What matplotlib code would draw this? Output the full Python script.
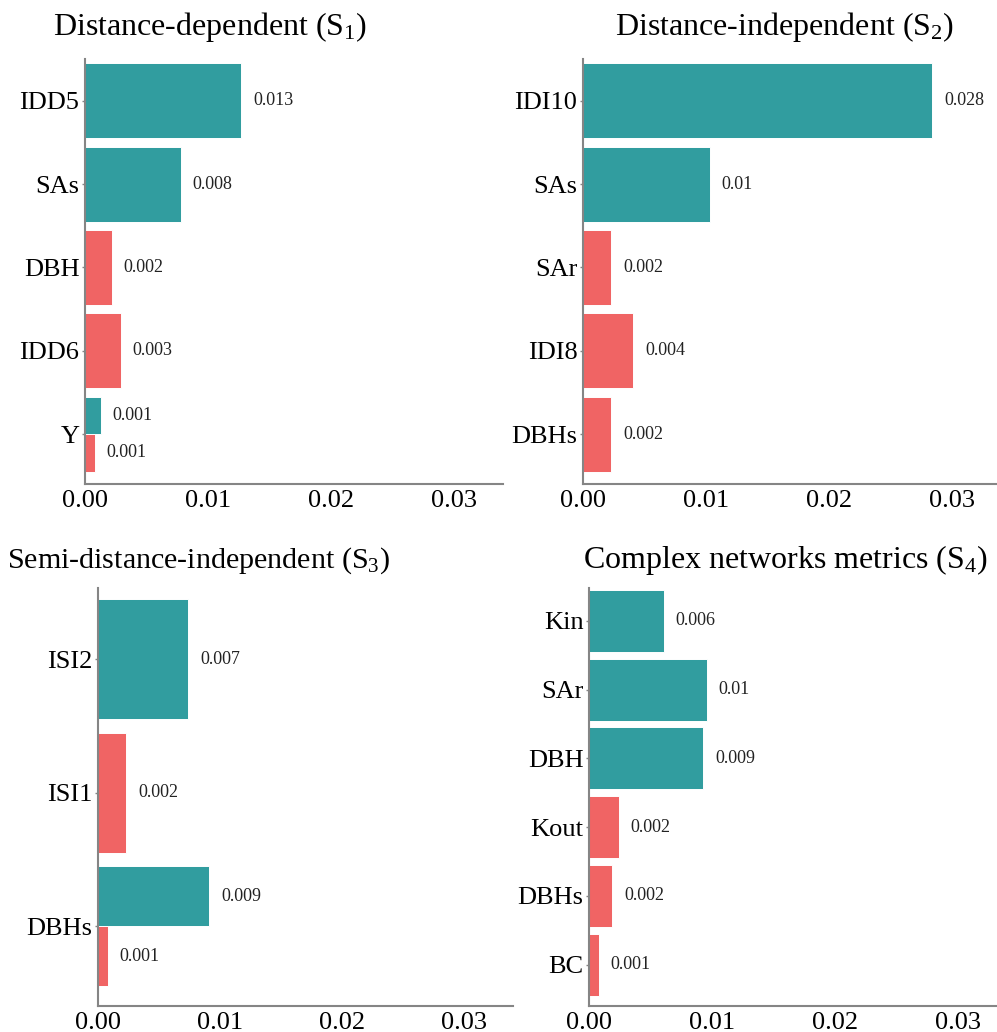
import matplotlib
matplotlib.use("Agg")
import matplotlib.pyplot as plt

plt.rcParams['font.family'] = ['Liberation Serif', 'DejaVu Serif']
plt.rcParams['mathtext.fontset'] = 'custom'
plt.rcParams['mathtext.rm'] = 'Liberation Serif'
plt.rcParams['mathtext.it'] = 'Liberation Serif:italic'
plt.rcParams['mathtext.bf'] = 'Liberation Serif:bold'

TEAL = '#319d9f'
RED = '#f06464'
AXIS_GREY = '#858585'

# Variable importance per indicator group (top to bottom); None = no bar of that sign
s1_labels = ['IDD5', 'SAs', 'DBH', 'IDD6', 'Y']
s1_pos = [0.0127, 0.0078, None, None, 0.0013]
s1_neg = [None, None, 0.0022, 0.0029, 0.0008]

s2_labels = ['IDI10', 'SAs', 'SAr', 'IDI8', 'DBHs']
s2_pos = [0.0284, 0.0103, None, None, None]
s2_neg = [None, None, 0.0023, 0.0041, 0.0023]

s3_labels = ['ISI2', 'ISI1', 'DBHs']
s3_pos = [0.0074, None, 0.0091]
s3_neg = [None, 0.0023, 0.0008]

s4_labels = ['Kin', 'SAr', 'DBH', 'Kout', 'DBHs', 'BC']
s4_pos = [0.0061, 0.0096, 0.0093, None, None, None]
s4_neg = [None, None, None, 0.0024, 0.0019, 0.0008]

titles = [
    r'Distance-dependent ($\mathrm{S}_1$)',
    r'Distance-independent ($\mathrm{S}_2$)',
    r'Semi-distance-independent ($\mathrm{S}_3$)',
    r'Complex networks metrics ($\mathrm{S}_4$)',
]
x_ticks = [0.00, 0.01, 0.02, 0.03]
x_ticklabels = ['0.00', '0.01', '0.02', '0.03']
x_max = 0.034

W, H = 997, 1032
fig = plt.figure(figsize=(W / 100, H / 100), dpi=100)

# panel rectangles in pixels: left, top, right, bottom
rects = [
    (85, 51, 503, 484),
    (583, 51, 1001, 484),
    (98, 579.5, 513, 1006),
    (589, 579.5, 1007, 1006),
]
title_pos = [(210, 35), (784, 35), (198, 568), (785, 568)]
title_size = [23, 23, 21.6, 23]
panels = [
    (s1_labels, s1_pos, s1_neg),
    (s2_labels, s2_pos, s2_neg),
    (s3_labels, s3_pos, s3_neg),
    (s4_labels, s4_pos, s4_neg),
]


def fmt(v):
    return f"{round(v, 3):g}"


def draw(ax, labels, pos, neg, px_height):
    n = len(labels)
    width = 0.9
    for i in range(n):
        p, q = pos[i], neg[i]
        if p is not None and q is not None:
            items = [(p, i - width / 4, TEAL), (q, i + width / 4, RED)]
            h = width / 2
        else:
            v = p if p is not None else q
            items = [(v, i, TEAL if p is not None else RED)]
            h = width
        for v, y, c in items:
            ax.barh(y, v, height=h, color=c, edgecolor='white', linewidth=0.7)
            ax.annotate(fmt(v), xy=(v, y), xytext=(8.5, 0),
                        textcoords='offset points', va='center', ha='left',
                        fontsize=13, color='#222222')
    ax.set_ylim(n - 0.4, -0.6)
    ax.set_xlim(0, x_max)
    ax.set_yticks(range(n))
    ax.set_yticklabels(labels, fontsize=19)
    ax.set_xticks(x_ticks)
    ax.set_xticklabels(x_ticklabels, fontsize=19)
    for s in ('top', 'right'):
        ax.spines[s].set_visible(False)
    for s in ('left', 'bottom'):
        ax.spines[s].set_color(AXIS_GREY)
        ax.spines[s].set_linewidth(1.5)
    ppu = px_height / (n + 0.2)
    ax.spines['left'].set_bounds(n - 0.4, -0.6 + 8 / ppu)
    ax.tick_params(axis='y', length=2.5, width=1, color=AXIS_GREY, pad=1.5)
    ax.tick_params(axis='x', length=0, pad=4)
    ax.set_facecolor('white')


for (l, t, r, b), (labels, pos, neg), title, (tx, ty), ts in zip(
        rects, panels, titles, title_pos, title_size):
    ax = fig.add_axes([l / W, 1 - b / H, (r - l) / W, (b - t) / H])
    draw(ax, labels, pos, neg, b - t)
    fig.text(tx / W, 1 - ty / H, title, ha='center', va='baseline', fontsize=ts)

fig.savefig('out.png', dpi=100, facecolor='white')
